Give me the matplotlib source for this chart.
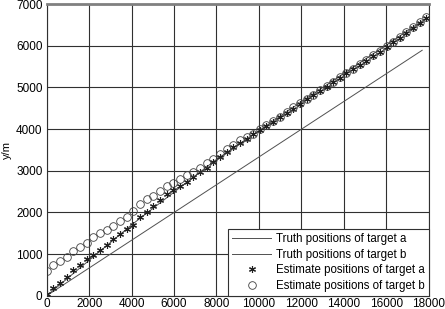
import matplotlib
matplotlib.use("Agg")
import matplotlib.pyplot as plt

plt.rcParams['font.family'] = ['Liberation Sans', 'DejaVu Sans']

# sample positions along x (m)
x_pts = [0, 310, 630, 940, 1250, 1570, 1880, 2200, 2510, 2830, 3140, 3460, 3770,
         4090, 4400, 4710, 5030, 5340, 5650, 5970, 6280, 6600, 6910, 7220, 7540,
         7850, 8170, 8480, 8790, 9110, 9420, 9740, 10050, 10360, 10680, 10990,
         11310, 11620, 11930, 12250, 12560, 12880, 13190, 13500, 13820, 14130,
         14450, 14760, 15070, 15390, 15700, 16020, 16330, 16640, 16960, 17270,
         17590, 17900]

# estimates of target a (stars)
est_a = [50, 190, 313, 450, 610, 745, 870, 985, 1105, 1225, 1360, 1480, 1590,
         1700, 1880, 2020, 2150, 2290, 2440, 2540, 2630, 2740, 2860, 2975, 3070,
         3200, 3320, 3460, 3580, 3670, 3750, 3880, 3985, 4065, 4170, 4290,
         4385, 4490, 4610, 4710, 4805, 4910, 5020, 5120, 5220, 5340,
         5430, 5540, 5640, 5750, 5850, 5965, 6080, 6195, 6315, 6435,
         6550, 6665]

# estimates of target b (circles)
est_b = [600, 740, 840, 940, 1080, 1176, 1272, 1400, 1496, 1576, 1672, 1800, 1896,
         2040, 2200, 2310, 2400, 2520, 2630, 2700, 2810, 2890, 2980, 3065, 3190,
         3280, 3410, 3530, 3625, 3725, 3800, 3880, 3990, 4090, 4190, 4300,
         4400, 4520, 4630, 4730, 4825, 4930, 5040, 5140, 5240, 5355,
         5450, 5560, 5660, 5770, 5870, 5985, 6100, 6215, 6335, 6455,
         6570, 6685]

# truth tracks
truth_a_x = [0, 4000, 8000, 12000, 17900]
truth_a_y = [0, 1700, 3270, 4650, 6660]
truth_b_x = [0, 17700]
truth_b_y = [0, 5890]

fig = plt.figure(figsize=(4.45, 3.09), dpi=100)
ax = fig.add_axes([0.105, 0.043, 0.858, 0.944])

ax.plot(truth_a_x, truth_a_y, color='#505050', lw=0.7, label='Truth positions of target a')
ax.plot(truth_b_x, truth_b_y, color='#505050', lw=0.7, label='Truth positions of target b')
ax.plot(x_pts, est_a, linestyle='none', marker=(6, 2, 0), color='#202020',
        markersize=5, markeredgewidth=0.8, label='Estimate positions of target a')
ax.plot(x_pts, est_b, linestyle='none', marker='o', markerfacecolor='none',
        markeredgecolor='#404040', markeredgewidth=0.6, markersize=5.5,
        label='Estimate positions of target b')

ax.set_xlim(0, 18000)
ax.set_ylim(0, 7000)
ax.set_xticks(range(0, 18001, 2000))
ax.set_yticks(range(0, 7001, 1000))
ax.tick_params(length=0, labelsize=8.5)
ax.tick_params(axis='x', pad=1.5)
ax.tick_params(axis='y', pad=3)
ax.grid(True, color='#303030', lw=0.8)
ax.set_axisbelow(True)
for s in ax.spines.values():
    s.set_color('#303030')
    s.set_linewidth(0.8)
ax.spines['top'].set_color('#808080')
ax.spines['top'].set_linewidth(2)
ax.set_ylabel('y/m', fontsize=8, labelpad=3)

leg = ax.legend(loc='lower right', fontsize=8.3, frameon=True, fancybox=False,
                borderpad=0.35, labelspacing=0.3, handlelength=3.4,
                handletextpad=0.4, borderaxespad=0)
leg.get_frame().set_edgecolor('#303030')
leg.get_frame().set_linewidth(0.8)
leg.get_frame().set_alpha(1)

fig.savefig('out.png', dpi=100)
